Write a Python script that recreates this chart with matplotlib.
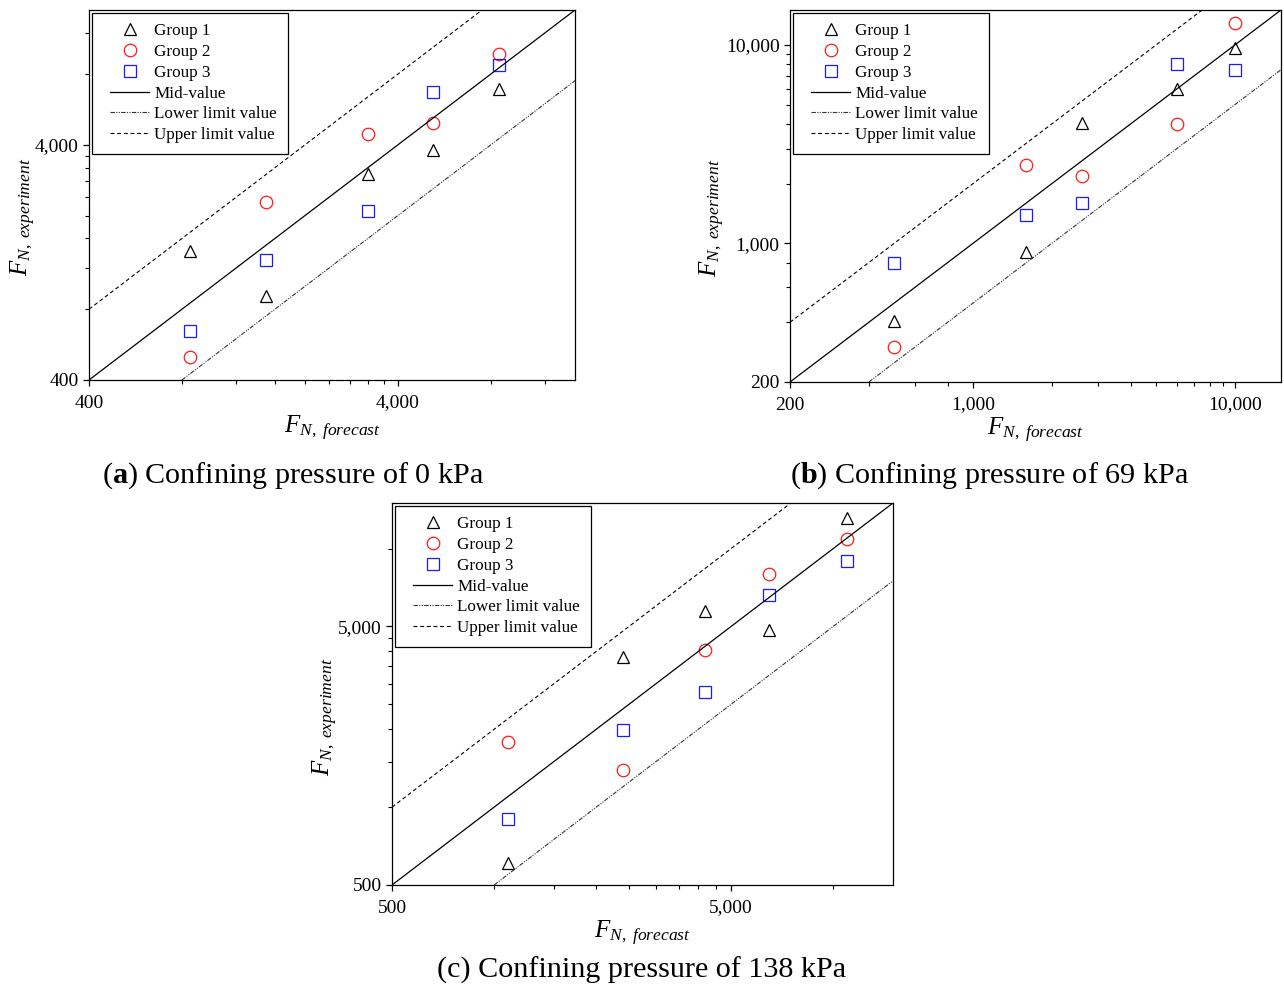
import numpy as np
import matplotlib
matplotlib.use("Agg")
import matplotlib.pyplot as plt
from matplotlib.ticker import FixedLocator, NullFormatter
from matplotlib.legend_handler import HandlerLine2D
from matplotlib.lines import Line2D

plt.rcParams['font.family'] = ['Liberation Serif', 'DejaVu Serif']
plt.rcParams['mathtext.fontset'] = 'custom'
plt.rcParams['mathtext.rm'] = 'Liberation Serif'
plt.rcParams['mathtext.it'] = 'Liberation Serif:italic'
plt.rcParams['mathtext.bf'] = 'Liberation Serif:bold'

# ---------------- data ----------------
a_x = [850, 1500, 3200, 5200, 8500]
a_g1 = [1410, 915, 3020, 3820, 6930]
a_g2 = [500, 2285, 4470, 4960, 9750]
a_g3 = [645, 1295, 2090, 6730, 8730]

b_x = [500, 1600, 2600, 6000, 10000]
b_g1 = [404, 908, 4040, 6010, 9620]
b_g2 = [299, 2495, 2190, 3980, 12950]
b_g3 = [796, 1393, 1595, 8000, 7460]

c_x = [1100, 2400, 4190, 6480, 10960]
c_g1 = [606, 3820, 5745, 4830, 13090]
c_g2 = [1790, 1393, 4066, 7950, 10935]
c_g3 = [897, 1991, 2789, 6636, 8917]

a_lim = [400, 15000]
b_lim = [200, 15000]
c_lim = [500, 15000]

a_major = [400, 4000]
a_major_labels = ['400', '4,000']
a_minor = [800, 1200, 1600, 2000, 2400, 2800, 3200, 3600, 8000, 12000]

b_major = [200, 1000, 10000]
b_major_labels = ['200', '1,000', '10,000']
b_minor = [400, 600, 800, 2000, 3000, 4000, 5000, 6000, 7000, 8000, 9000]

c_major = [500, 5000]
c_major_labels = ['500', '5,000']
c_minor = [1000, 1500, 2000, 2500, 3000, 3500, 4000, 4500, 10000]

upper_factor = 2.0
lower_factor = 0.5

group_labels = ['Group 1', 'Group 2', 'Group 3']
line_labels = ['Mid-value', 'Lower limit value', 'Upper limit value']

captions = [r'($\mathbf{a}$) Confining pressure of 0 kPa',
            r'($\mathbf{b}$) Confining pressure of 69 kPa',
            '(c) Confining pressure of 138 kPa']

W, H = 1284, 990
fig = plt.figure(figsize=(W / 100, H / 100), dpi=100)


def px_axes(l, t, r, b):
    return fig.add_axes([l / W, 1 - b / H, (r - l) / W, (b - t) / H])


def panel(ax, x, g1, g2, g3, lim, major, major_labels, minor, ylabel_x):
    lo, hi = lim
    ax.set_xscale('log')
    ax.set_yscale('log')
    ms = 9
    ax.plot(x, g1, linestyle='none', marker='^', ms=ms, mfc='none', mec='black', mew=0.9, label=group_labels[0])
    ax.plot(x, g2, linestyle='none', marker='o', ms=ms, mfc='none', mec='#ff1a1a', mew=0.9, label=group_labels[1])
    ax.plot(x, g3, linestyle='none', marker='s', ms=8, mfc='none', mec='#1a1aff', mew=0.9, label=group_labels[2])
    xs = np.array([lo, hi])
    ax.plot(xs, xs, color='black', lw=0.9, label=line_labels[0])
    xl = np.array([lo / lower_factor, hi])
    ax.plot(xl, xl * lower_factor, color='#333333', lw=0.8,
            dashes=(4, 1.2, 1, 1.2, 1, 1.2), label=line_labels[1])
    xu = np.array([lo, hi / upper_factor])
    ax.plot(xu, xu * upper_factor, color='black', lw=0.8, dashes=(3.5, 2.5), label=line_labels[2])
    ax.set_xlim(lo, hi)
    ax.set_ylim(lo, hi)
    for axis in (ax.xaxis, ax.yaxis):
        axis.set_major_locator(FixedLocator(major))
        axis.set_minor_locator(FixedLocator(minor))
        axis.set_minor_formatter(NullFormatter())
    ax.set_xticklabels(major_labels)
    ax.set_yticklabels(major_labels)
    ax.tick_params(which='major', direction='out', length=4.5, width=0.9, labelsize=14, pad=3)
    ax.tick_params(axis='x', which='major', pad=6)
    ax.tick_params(which='minor', direction='out', length=3, width=0.8)
    for s in ax.spines.values():
        s.set_linewidth(0.9)
    ax.set_xlabel(r'$F_{N,\ \mathit{forecast}}$', fontsize=18, labelpad=2)
    ax.set_ylabel(r'$F_{N,\ \mathit{experiment}}$', fontsize=18)
    ax.yaxis.set_label_coords(ylabel_x, 0.44)
    leg = ax.legend(loc='upper left', fontsize=12.3, frameon=True, fancybox=False,
                    edgecolor='black', framealpha=1, borderaxespad=0.15,
                    handlelength=2.75, handletextpad=0.3, labelspacing=0.28,
                    borderpad=0.62,
                    handler_map={Line2D: HandlerLine2D(xpad=0.47)})
    leg.get_frame().set_linewidth(0.9)
    return ax


ax_a = px_axes(89, 10, 575, 380)
panel(ax_a, a_x, a_g1, a_g2, a_g3, a_lim, a_major, a_major_labels, a_minor, -0.105)
ax_b = px_axes(790, 10, 1281, 382)
panel(ax_b, b_x, b_g1, b_g2, b_g3, b_lim, b_major, b_major_labels, b_minor, -0.128)
ax_c = px_axes(392, 503, 893, 885)
panel(ax_c, c_x, c_g1, c_g2, c_g3, c_lim, c_major, c_major_labels, c_minor, -0.104)

fig.text(293 / W, 1 - 476 / H, captions[0], fontsize=21.7, ha='center', va='center')
fig.text(990 / W, 1 - 476 / H, captions[1], fontsize=21.7, ha='center', va='center')
fig.text(642 / W, 1 - 970 / H, captions[2], fontsize=21.7, ha='center', va='center')

fig.savefig('out.png', dpi=100)
